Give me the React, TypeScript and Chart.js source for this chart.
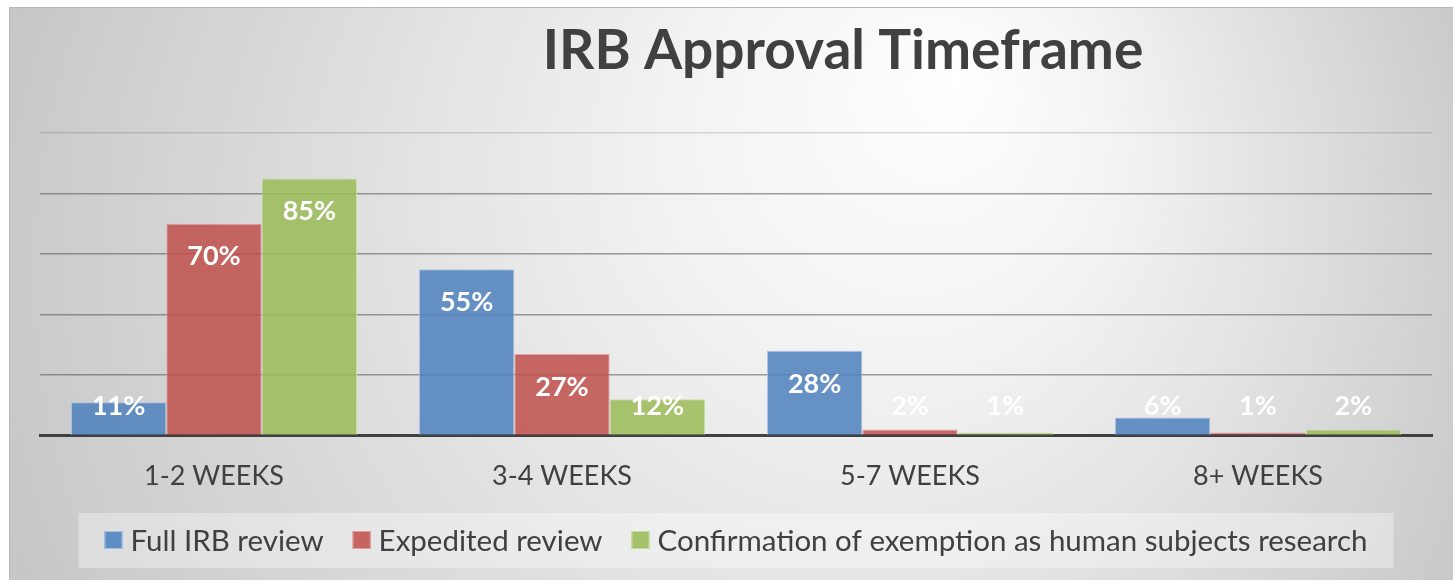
import React, { useEffect, useRef } from "react";
import { Chart, registerables } from "chart.js";

Chart.register(...registerables);

const categories = ["1-2 WEEKS", "3-4 WEEKS", "5-7 WEEKS", "8+ WEEKS"];
const seriesNames = [
  "Full IRB review",
  "Expedited review",
  "Confirmation of exemption as human subjects research",
];
const fullReview = [11, 55, 28, 6];
const expedited = [70, 27, 2, 1];
const exemption = [85, 12, 1, 2];
const yTicks = [0, 20, 40, 60, 80, 100];
const titleText = "IRB Approval Timeframe";

const fills = ["rgba(79,129,189,0.86)", "rgba(192,80,77,0.86)", "rgba(155,187,89,0.86)"];
const borders = ["rgba(170,195,228,0.95)", "rgba(225,160,158,0.95)", "rgba(200,222,160,0.95)"];
const solid = ["#5f8ec5", "#c66462", "#a5c26b"];

const FONT = "Lato, 'Open Sans', 'Noto Sans', sans-serif";
const TEXT = "#404040";

const bgPlugin = {
  id: "bgPlugin",
  beforeDraw(chart: any) {
    const { ctx, width, height } = chart;
    ctx.save();
    const g = ctx.createRadialGradient(950, 70, 0, 726, 290, 820);
    g.addColorStop(0, "#ffffff");
    g.addColorStop(0.3, "#f1f1f1");
    g.addColorStop(1, "#c4c4c4");
    ctx.fillStyle = g;
    ctx.fillRect(0, 0, width, height);
    ctx.strokeStyle = "#b8b8b8";
    ctx.lineWidth = 1;
    ctx.beginPath();
    ctx.moveTo(0.5, height);
    ctx.lineTo(0.5, 0.5);
    ctx.lineTo(width, 0.5);
    ctx.stroke();
    // title
    const ca = chart.chartArea;
    ctx.fillStyle = TEXT;
    ctx.font = `bold 55px ${FONT}`;
    ctx.textAlign = "center";
    ctx.textBaseline = "alphabetic";
    ctx.fillText(titleText, (ca.left + ca.right) / 2 + 107, 62);

    // legend
    ctx.font = `29.5px ${FONT}`;
    const box = 18, gapText = 8, gapItem = 29;
    const widths = seriesNames.map((n) => ctx.measureText(n).width);
    let total = 0;
    widths.forEach((w, i) => {
      total += box + gapText + w + (i < widths.length - 1 ? gapItem : 0);
    });
    const cx = (ca.left + ca.right) / 2;
    const cy = 533;
    const padX = 26;
    ctx.fillStyle = "rgba(255,255,255,0.35)";
    ctx.fillRect(cx - total / 2 - padX, cy - 27, total + padX * 2, 55);
    let x = cx - total / 2;
    ctx.textAlign = "left";
    ctx.textBaseline = "middle";
    seriesNames.forEach((n, i) => {
      ctx.fillStyle = solid[i];
      ctx.fillRect(x, cy - box / 2, box, box);
      ctx.strokeStyle = borders[i];
      ctx.lineWidth = 1;
      ctx.strokeRect(x + 0.5, cy - box / 2 + 0.5, box - 1, box - 1);
      ctx.fillStyle = TEXT;
      ctx.fillText(n, x + box + gapText, cy + 1);
      x += box + gapText + widths[i] + gapItem;
    });
    ctx.restore();
  },
};

const labelPlugin = {
  id: "labelPlugin",
  afterDatasetsDraw(chart: any) {
    const { ctx } = chart;
    ctx.save();
    ctx.font = `bold 27px ${FONT}`;
    ctx.fillStyle = "#ffffff";
    ctx.textAlign = "center";
    ctx.textBaseline = "middle";
    chart.data.datasets.forEach((ds: any, di: number) => {
      const meta = chart.getDatasetMeta(di);
      meta.data.forEach((el: any, i: number) => {
        const y = Math.min(el.y + 33, el.base - 29);
        ctx.fillText(`${ds.data[i]}%`, el.x, y);
      });
    });
    ctx.restore();
  },
};

export default function App() {
  const ref = useRef<HTMLCanvasElement>(null);
  useEffect(() => {
    if (!ref.current) return;
    const data = [fullReview, expedited, exemption];
    const chart = new Chart(ref.current, {
      type: "bar",
      data: {
        labels: categories,
        datasets: seriesNames.map((name, i) => ({
          label: name,
          data: data[i],
          backgroundColor: fills[i],
          borderColor: borders[i],
          borderWidth: 1,
          categoryPercentage: 0.822,
          barPercentage: 1,
        })),
      },
      options: {
        responsive: false,
        animation: false,
        devicePixelRatio: 1,
        layout: { padding: { left: 31, right: 21, top: 126, bottom: 64 } },
        plugins: {
          legend: { display: false },
          title: { display: false },
          tooltip: { enabled: false },
        },
        scales: {
          x: {
            grid: { display: false, drawTicks: false },
            border: { display: true, color: "#404040", width: 3 },
            ticks: {
              color: TEXT,
              font: { family: FONT, size: 27 },
              padding: 24,
            },
          },
          y: {
            min: 0,
            max: 100,
            afterBuildTicks: (scale: any) => {
              scale.ticks = yTicks.map((v) => ({ value: v }));
            },
            ticks: { display: false },
            border: { display: false },
            grid: {
              drawTicks: false,
              lineWidth: 1.5,
              color: (c: any) =>
                c.tick && c.tick.value === 100 ? "rgba(80,80,80,0.2)" : "rgba(70,70,70,0.5)",
            },
          },
        },
      },
      plugins: [bgPlugin, labelPlugin],
    });
    return () => chart.destroy();
  }, []);
  return (
    <div style={{ position: "fixed", inset: 0, background: "#ffffff" }}>
      <canvas
        ref={ref}
        width={1444}
        height={573}
        style={{ position: "absolute", left: 9, top: 7, width: 1444, height: 573 }}
      />
    </div>
  );
}
